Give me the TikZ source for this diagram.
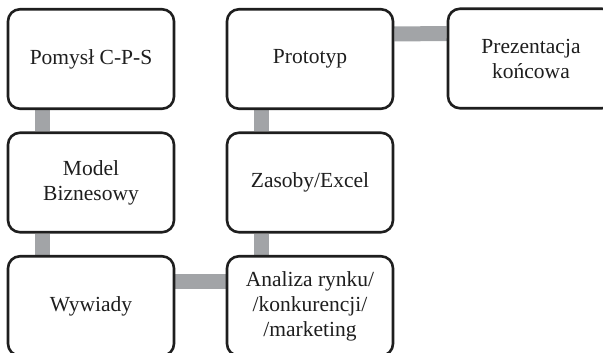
\documentclass[tikz,border=0pt]{standalone}
\usepackage{fontspec}
\setmainfont{Liberation Serif}
\usetikzlibrary{backgrounds}
\definecolor{linkgray}{HTML}{A2A4A7}
\definecolor{ink}{HTML}{1E1E1E}
\begin{document}
\begin{tikzpicture}[x=1pt,y=-1pt,
  stage/.style={draw=ink, line width=2.6pt, rounded corners=12pt, fill=white,
    minimum width=166pt, minimum height=99.5pt, inner sep=0pt, align=center,
    text=ink, font=\fontsize{21.5}{25}\selectfont},
  link/.style={draw=linkgray, line width=15pt}]
\useasboundingbox (0,0) rectangle (603,353);
% left column
\node[stage] (idea)   at (91,59)    {Pomysł C-P-S};
\node[stage] (model)  at (91,182.5) {Model\\Biznesowy};
\node[stage] (interv) at (91,306)   {Wywiady};
% right column
\node[stage] (proto)  at (310,59)    {Prototyp};
\node[stage] (excel)  at (310,182.5) {Zasoby/Excel};
\node[stage] (market) at (310,306)   {Analiza rynku/\\/konkurencji/\\/marketing};
% final stage
\node[stage] (final)  at (531,58.5)  {Prezentacja\\końcowa};
% grey connectors behind the boxes
\begin{scope}[on background layer]
  \draw[link] ([xshift=-48.5pt]idea.south)  -- ([xshift=-48.5pt]model.north);
  \draw[link] ([xshift=-48.5pt]model.south) -- ([xshift=-48.5pt]interv.north);
  \draw[link] ([yshift=24.5pt]interv.east) -- ([yshift=24.5pt]market.west);
  \draw[link] ([xshift=-48.5pt]market.north) -- ([xshift=-48.5pt]excel.south);
  \draw[link] ([xshift=-48.5pt]excel.north) -- ([xshift=-48.5pt]proto.south);
  \draw[link] ([yshift=25pt]proto.east) -- ([yshift=25pt]final.west);
\end{scope}
\end{tikzpicture}
\end{document}
